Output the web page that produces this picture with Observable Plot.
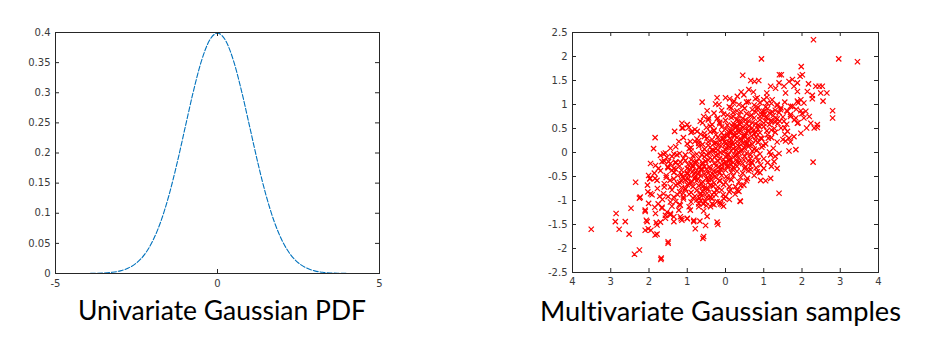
<!DOCTYPE html>
<html><head><meta charset="utf-8">
<script src="https://cdn.jsdelivr.net/npm/d3@7"></script>
<script src="https://cdn.jsdelivr.net/npm/@observablehq/plot@0.6"></script>
<style>
body{margin:0;background:#fff;}
#wrap{position:relative;width:939px;height:352px;overflow:hidden;background:#fff;}
.panel{position:absolute;top:0;}
#titles{position:absolute;left:0;top:0;}
#titles text{font-variant-ligatures:none;font-feature-settings:"liga" 0,"clig" 0;}
</style></head><body><div id="wrap"></div>
<script>
// ---- Left panel: univariate Gaussian PDF ----
const pdfX = [-5,-4.75,-4.5,-4.25,-4,-3.75,-3.5,-3.25,-3,-2.75,-2.5,-2.25,-2,-1.75,-1.5,-1.25,-1,-0.75,-0.5,-0.25,0,0.25,0.5,0.75,1,1.25,1.5,1.75,2,2.25,2.5,2.75,3,3.25,3.5,3.75,4,4.25,4.5,4.75,5];
const pdfY = [0,0,0,0,0.0001,0.0004,0.0009,0.002,0.0044,0.0091,0.0175,0.0317,0.054,0.0863,0.1295,0.1826,0.242,0.3011,0.3521,0.3867,0.3989,0.3867,0.3521,0.3011,0.242,0.1826,0.1295,0.0863,0.054,0.0317,0.0175,0.0091,0.0044,0.002,0.0009,0.0004,0.0001,0,0,0,0];
const pdfXTicks = [-5,0,5];
const pdfYTicks = [0,0.05,0.1,0.15,0.2,0.25,0.3,0.35,0.4];

// ---- Right panel: multivariate Gaussian samples (positions) ----
const scatterXTicks = [-4,-3,-2,-1,0,1,2,3,4];
const scatterXLabels = ["4","3","2","1","0","1","2","3","4"];
const scatterYTicks = [-2.5,-2,-1.5,-1,-0.5,0,0.5,1,1.5,2,2.5];
const samples = [
[-3.51,-1.60],[-2.86,-1.27],[-2.88,-1.44],[-2.78,-1.60],[-2.62,-1.44],[-2.52,-1.70],[-2.47,-1.16],[-2.35,-0.62],[-2.38,-2.12],[-2.25,-2.03],[-2.25,-0.95],[-1.69,-2.23],[-1.50,-1.89],[-1.84,0.31],[-1.88,0.08],[-1.33,0.44],[-0.57,-1.22],[-0.59,-1.79],[-0.20,-1.50],[0.45,1.61],[0.94,1.95],[2.30,2.35],[2.96,1.95],[3.45,1.89],[2.29,-0.20],[1.40,-0.85],[1.98,1.79],[1.41,1.62],[1.46,1.62],[2.80,0.87],[2.80,0.72],[2.40,0.58],[2.40,0.52],[2.65,1.24],[2.53,1.38],[2.27,1.12],[2.55,1.07],[1.84,0.06],[1.66,0.03],[0.92,-0.58],[1.05,-0.59],[1.18,-0.54],[0.38,-1.01],
[-2.23,-0.93],[-2.02,-1.59],[-2.10,-1.20],[-2.07,-1.41],[-1.96,-0.23],[-2.01,-0.48],[-1.98,-0.55],[-2.03,-0.82],[-1.96,-0.86],[-1.83,-0.27],[-1.86,-0.43],[-1.79,-0.58],[-1.78,-0.75],[-1.72,-0.91],[-1.85,-1.14],[-1.83,-1.27],[-1.81,-1.46],[-1.79,-1.70],[-1.70,-1.45],[-1.68,-2.20],[-1.50,-1.86],[-1.76,-1.07],[-1.66,-1.14],[-1.62,-0.86],[-1.60,-0.65],[-1.55,-0.48],[-1.51,-0.30],[-1.70,-0.06],[-1.62,-0.03],[-1.53,-0.10],[-1.35,-0.03],[-1.31,-0.20],[-1.44,-0.23],[-1.40,-0.37],[-1.35,-0.55],[-1.44,-0.72],[-1.35,-0.93],[-1.44,-1.03],[-1.53,-1.24],[-1.57,-1.31],[-1.44,-1.27],[-1.35,-1.34],[-1.18,-1.34],[-1.18,-1.10],[-1.16,-1.38],[-1.00,-1.38],[-0.83,-1.41],[-0.79,-1.59],[-0.67,-1.43],[-0.57,-1.75],[-0.52,-1.52],[-0.48,-1.33],[-0.22,-1.45],[-0.58,-1.07],[-0.65,-1.00],[-0.48,-0.93],[-0.35,-1.07],[-0.13,-1.07],[-0.04,-0.96],[-0.22,-0.79],
[-0.26,1.01],[-0.17,1.00],[-0.22,1.14],[0.11,1.12],[0.00,1.14],[0.31,1.17],[0.41,1.26],[0.61,1.31],[0.73,1.26],[0.83,1.14],[0.66,1.50],[0.76,1.48],[0.87,1.50],[1.00,1.10],[1.09,1.03],[1.08,1.24],[1.18,1.38],[1.31,1.34],[1.40,1.45],[1.53,1.38],[1.66,1.48],[1.75,1.52],[1.79,1.38],[1.88,1.45],[1.95,1.59],[2.01,1.62],[2.17,1.43],[2.36,1.38],[2.45,1.38],[2.49,1.24],[2.14,1.27],[1.88,1.27],[1.57,1.24],[2.27,1.19],[1.22,1.10],[1.35,1.00],[1.44,0.89],[1.62,0.86],[1.70,0.96],[1.88,1.07],[1.97,1.10],[2.05,1.03],[1.97,0.87],[2.10,0.86],[2.05,0.72],[2.19,0.75],[2.23,0.61],[2.12,0.51],[2.32,0.51],[1.09,0.72],[1.18,0.65],[1.31,0.72],[1.37,0.61],[1.53,0.65],[1.55,0.51],[1.62,0.44],[1.66,0.30],[1.57,0.24],[1.70,0.22],[1.79,0.33],[1.97,0.40],[1.88,0.61],[1.84,0.72],[1.70,0.75],[-0.61,1.05],[-0.48,0.87],[-0.57,0.75],[0.22,1.07],[0.48,1.20],
[1.18,-0.05],[1.27,-0.19],[1.35,-0.33],[1.00,-0.33],[0.92,-0.26],[0.83,-0.40],[0.66,-0.36],[0.57,-0.54],[0.48,-0.68],[0.35,-0.81],[0.39,-1.02],[0.26,-0.71],[0.13,-0.78],[-0.06,-0.88],[-0.09,-1.09],[-0.22,-1.02],[-0.35,-0.88],[-0.39,-1.13],[-0.52,-1.02],[-0.66,-0.88],[-0.70,-1.13],[-0.83,-1.44],[-0.92,-1.20],[-1.00,-1.37],[-1.14,-1.41],[-1.22,-1.20],[-1.35,-1.44],[-1.44,-1.30],[-1.57,-1.37],[-1.66,-1.16],[-1.79,-1.51],[-1.84,-1.72],[-1.95,-1.62],[-2.10,-1.62],[-2.05,-1.44],[-2.10,-1.23],[-2.01,-1.06],[-1.92,-0.88],[-2.04,-0.68],[-1.97,-0.54],[-1.84,-0.54],[-1.75,-0.33],[-1.66,-0.19],[-1.57,-0.01],[-1.44,0.09],[-1.49,-0.19],[-1.35,-0.33],[-1.27,-0.05],[-1.22,0.23],[-1.14,0.51],[-1.00,0.58],[-0.87,0.44],[-0.92,0.23],[-0.74,0.44],[-0.66,0.65],[-0.44,0.72],[-0.70,0.19],[-1.14,0.61],[-1.11,0.51],[-0.96,0.52],
[0.2,1.03],[0.45,0.97],[0.6,1.06],[0.75,0.99],[0.9,1.04],[1.05,0.95],[1.2,1.02],[1.35,0.98],[1.55,1.05],[1.75,0.96],[1.9,1.03],
[-0.1,0.88],[0.15,0.93],[0.3,0.87],[0.5,0.92],[0.7,0.89],[0.85,0.94],[1.0,0.86],[1.1,0.91],[1.3,0.88],[1.45,0.93],[1.6,0.87],[1.85,0.9],
[-0.3,0.82],[0.05,0.78],[0.2,0.83],[0.35,0.77],[0.55,0.81],[0.65,0.76],[0.8,0.84],[0.95,0.79],[1.15,0.82],[1.25,0.77],[1.4,0.83],[1.7,0.79],[2.0,0.81],
[-0.45,0.68],[-0.2,0.72],[0.0,0.67],[0.15,0.73],[0.3,0.69],[0.45,0.71],[0.6,0.66],[0.75,0.72],[0.9,0.68],[1.05,0.73],[1.2,0.67],[1.35,0.7],[1.5,0.74],[1.8,0.68],
[-0.6,0.62],[-0.35,0.58],[-0.15,0.63],[0.05,0.57],[0.2,0.61],[0.3,0.56],[0.4,0.63],[0.55,0.59],[0.7,0.62],[0.85,0.57],[1.0,0.61],[1.15,0.58],[1.3,0.63],[1.6,0.59],[1.9,0.62],
[-0.8,0.48],[-0.5,0.52],[-0.3,0.47],[-0.1,0.53],[0.0,0.49],[0.12,0.46],[0.25,0.52],[0.35,0.48],[0.45,0.53],[0.6,0.47],[0.7,0.51],[0.85,0.49],[1.0,0.54],[1.2,0.47],[1.45,0.51],
[-0.9,0.42],[-0.65,0.38],[-0.4,0.43],[-0.25,0.37],[-0.1,0.41],[0.05,0.39],[0.15,0.43],[0.25,0.36],[0.35,0.42],[0.5,0.38],[0.6,0.44],[0.75,0.39],[0.9,0.41],[1.1,0.37],[1.3,0.42],[1.55,0.38],
[-1.1,0.31],[-0.75,0.28],[-0.55,0.33],[-0.35,0.27],[-0.2,0.32],[-0.05,0.29],[0.05,0.34],[0.15,0.26],[0.3,0.31],[0.4,0.28],[0.5,0.33],[0.65,0.27],[0.8,0.32],[0.95,0.29],[1.2,0.31],[1.5,0.27],
[-1.0,0.18],[-0.8,0.23],[-0.6,0.17],[-0.45,0.22],[-0.3,0.19],[-0.15,0.24],[0.0,0.18],[0.1,0.21],[0.2,0.16],[0.3,0.23],[0.45,0.19],[0.55,0.22],[0.7,0.17],[0.85,0.21],[1.05,0.18],[1.35,0.22],
[-1.3,0.12],[-0.95,0.08],[-0.7,0.13],[-0.55,0.07],[-0.4,0.11],[-0.25,0.09],[-0.12,0.14],[0.0,0.06],[0.1,0.11],[0.2,0.08],[0.35,0.13],[0.5,0.09],[0.6,0.12],[0.75,0.07],[0.95,0.11],[1.25,0.09],
[-1.2,-0.02],[-0.9,0.03],[-0.75,-0.03],[-0.6,0.02],[-0.45,-0.01],[-0.3,0.04],[-0.2,-0.03],[-0.05,0.01],[0.05,-0.04],[0.15,0.03],[0.3,-0.02],[0.4,0.02],[0.55,-0.01],[0.7,0.03],[0.9,-0.03],[1.15,0.01],[1.4,-0.02],
[-1.4,-0.08],[-1.1,-0.12],[-0.85,-0.07],[-0.7,-0.13],[-0.55,-0.09],[-0.4,-0.11],[-0.25,-0.06],[-0.15,-0.12],[0.0,-0.09],[0.12,-0.13],[0.25,-0.07],[0.35,-0.11],[0.5,-0.08],[0.65,-0.12],[0.8,-0.09],[1.0,-0.13],[1.3,-0.08],
[-1.6,-0.18],[-1.3,-0.22],[-1.05,-0.17],[-0.9,-0.23],[-0.75,-0.19],[-0.6,-0.21],[-0.45,-0.16],[-0.3,-0.23],[-0.2,-0.18],[-0.05,-0.22],[0.1,-0.17],[0.2,-0.21],[0.3,-0.19],[0.45,-0.23],[0.6,-0.18],[0.7,-0.22],[0.85,-0.17],[1.1,-0.21],
[-1.5,-0.32],[-1.2,-0.28],[-1.0,-0.33],[-0.85,-0.27],[-0.7,-0.31],[-0.55,-0.29],[-0.4,-0.34],[-0.25,-0.28],[-0.1,-0.32],[0.05,-0.27],[0.2,-0.31],[0.3,-0.29],[0.5,-0.33],[0.65,-0.28],[0.8,-0.32],[1.2,-0.29],
[-1.7,-0.38],[-1.35,-0.42],[-1.15,-0.37],[-1.0,-0.43],[-0.85,-0.39],[-0.7,-0.41],[-0.6,-0.36],[-0.45,-0.43],[-0.3,-0.38],[-0.15,-0.42],[0.0,-0.37],[0.15,-0.41],[0.3,-0.39],[0.45,-0.43],[0.6,-0.38],[0.9,-0.42],
[-1.55,-0.52],[-1.25,-0.48],[-1.1,-0.53],[-0.95,-0.47],[-0.8,-0.51],[-0.65,-0.49],[-0.5,-0.54],[-0.4,-0.47],[-0.25,-0.52],[-0.1,-0.48],[0.05,-0.53],[0.2,-0.49],[0.4,-0.52],[0.75,-0.48],
[-1.45,-0.58],[-1.2,-0.62],[-1.05,-0.57],[-0.9,-0.63],[-0.75,-0.59],[-0.6,-0.61],[-0.45,-0.56],[-0.3,-0.63],[-0.15,-0.58],[0.0,-0.62],[0.15,-0.57],[0.35,-0.61],[0.55,-0.59],
[-1.6,-0.72],[-1.3,-0.68],[-1.15,-0.73],[-1.0,-0.67],[-0.85,-0.71],[-0.7,-0.69],[-0.55,-0.74],[-0.4,-0.68],[-0.2,-0.72],[-0.05,-0.67],[0.1,-0.71],[0.4,-0.69],
[-1.4,-0.78],[-1.2,-0.82],[-1.05,-0.77],[-0.9,-0.83],[-0.75,-0.79],[-0.6,-0.81],[-0.45,-0.76],[-0.3,-0.83],[-0.1,-0.78],[0.1,-0.82],[0.3,-0.79],
[-1.5,-0.92],[-1.25,-0.88],[-1.1,-0.93],[-0.95,-0.87],[-0.8,-0.91],[-0.6,-0.89],[-0.4,-0.94],[-0.25,-0.88],[0.0,-0.92],[0.25,-0.87],
[-1.65,-0.98],[-1.3,-1.02],[-1.1,-0.97],[-0.9,-1.03],[-0.75,-0.99],[-0.55,-1.01],[-0.35,-0.96],[-0.15,-1.03],[0.1,-0.98],
[-1.4,-1.12],[-1.2,-1.08],[-0.95,-1.13],[-0.7,-1.07],[-0.5,-1.11],[-0.3,-1.09],[-0.05,-1.12],
[-0.5,-0.05],[-0.35,-0.15],[-0.2,0.05],[-0.1,-0.25],[0.08,0.15],[0.22,0.35],[0.38,0.45],[0.28,0.05],[0.42,0.25],[0.55,0.4],[0.1,-0.15],[-0.05,0.35],[0.18,0.55],[0.32,0.65],[-0.65,-0.35],[-0.8,-0.55],[-0.95,-0.65],[-0.72,-0.45],[-0.6,-0.25],[-0.38,-0.55],[-0.22,-0.4],[0.05,-0.3],[0.62,0.55],[0.78,0.6],[0.9,0.75],[0.48,0.1],[-0.45,0.15],[-0.3,0.45],[0.65,-0.05],[-1.0,-0.45],[-0.85,-0.3],[-1.15,-0.6],[-0.5,-0.75],[-0.65,-0.85],[0.2,0.75],[1.05,0.65],[0.95,0.85],[-0.15,0.6],[0.4,0.85],[-0.9,-0.15],[-1.1,-0.85],
[-0.95,-0.35],[-0.8,-0.2],[-0.62,-0.05],[-0.48,0.3],[-0.35,0.05],[-0.18,0.15],[-0.02,0.22],[0.12,0.3],[0.25,0.42],[0.38,0.58],[0.52,0.68],[0.68,0.78],[0.82,0.9],
[-1.05,-0.75],[-0.88,-0.6],[-0.72,-0.55],[-0.55,-0.45],[-0.42,-0.3],[-0.28,-0.1],[-0.12,0.0],[0.02,0.1],[0.18,0.2],[0.32,0.15],[0.45,0.35],[0.58,0.28],[0.72,0.45],[0.88,0.55],[1.02,0.8],
[-1.25,-0.65],[-1.12,-0.5],[-0.98,-0.55],[-0.78,-0.4],[-0.62,-0.65],[-0.5,-0.35],[-0.33,-0.45],[-0.18,-0.3],[-0.05,-0.15],[0.08,-0.05],[0.22,-0.1],[0.35,0.0],[0.48,-0.15],[0.62,0.15],[0.78,0.25],[0.92,0.3],[1.08,0.45],
[-1.3,-0.35],[-1.18,-0.2],[-1.05,-0.05],[-0.9,0.1],[-0.7,0.25],[-0.55,0.4],[-0.4,0.55],[-0.22,0.7],[-0.05,0.8],[0.1,0.95],
[-0.85,-0.95],[-0.68,-0.95],[-0.48,-0.85],[-0.32,-0.7],[-0.15,-0.6],[0.02,-0.5],[0.18,-0.35],[0.35,-0.2],[0.52,-0.3],[0.68,-0.2],[0.82,0.05],[0.98,0.15],[1.12,0.3],[1.28,0.5],[1.42,0.65],[1.22,0.85],[1.08,1.15],[0.78,1.12],[0.55,1.05],[0.35,1.0],
[-0.45,-0.62],[-0.6,-0.72],[-0.28,-0.5],[-0.12,-0.36],[0.0,-0.2],[0.15,-0.25],[0.28,-0.05],[0.42,0.05],[0.55,0.18],[0.68,0.35],[0.8,0.42],[0.5,0.5],[0.28,0.52],[0.1,0.42],[-0.08,0.28],[-0.25,0.2],[-0.4,0.0],[-0.52,-0.18],[-0.68,-0.3],[-0.82,-0.45],[-0.98,-0.25],[-1.15,-0.45]
];

const titles = ["Univariate Gaussian PDF", "Multivariate Gaussian samples"];

// ---- build ----
const pdf = pdfX.map((x, i) => ({x, y: pdfY[i]}));
const pts = samples.map(([x, y]) => ({x, y}));
const wrap = document.getElementById("wrap");
const axisStyle = {fontFamily: "DejaVu Sans", fontSize: "10px", color: "#3a3a3a", background: "transparent", overflow: "visible"};
const ink = "#262626";
const TL = 4;

// left panel
const L = {w: 400, h: 300, ml: 55, mr: 21, mt: 32, mb: 27};
const LPW = L.w - L.ml - L.mr, LPH = L.h - L.mt - L.mb;
const left = Plot.plot({
  width: L.w, height: L.h, marginLeft: L.ml, marginRight: L.mr, marginTop: L.mt, marginBottom: L.mb,
  style: axisStyle,
  x: {domain: [-5, 5], label: null}, y: {domain: [0, 0.4], label: null},
  marks: [
    Plot.line(pdf, {x: "x", y: "y", stroke: "#0072BD", strokeWidth: 1.1, strokeDasharray: "5,2", curve: "monotone-x"}),
    Plot.tickY(pdfYTicks, {y: d => d, insetRight: LPW - TL, stroke: ink}),
    Plot.tickY(pdfYTicks, {y: d => d, insetLeft: LPW - TL, stroke: ink}),
    Plot.tickX(pdfXTicks, {x: d => d, insetTop: LPH - TL, stroke: ink}),
    Plot.tickX(pdfXTicks, {x: d => d, insetBottom: LPH - TL, stroke: ink}),
    Plot.frame({stroke: ink}),
    Plot.axisY(pdfYTicks, {tickSize: 0, tickPadding: 5, tickFormat: d => String(d), fill: "#3a3a3a", label: null}),
    Plot.axisX(pdfXTicks, {tickSize: 0, tickPadding: 6, tickFormat: d => String(d), fill: "#3a3a3a", label: null})
  ]
});
left.classList.add("panel");
left.style.left = "0px";
wrap.appendChild(left);

// right panel
const R = {w: 400, h: 300, ml: 52, mr: 42, mt: 32, mb: 28};
const RPW = R.w - R.ml - R.mr, RPH = R.h - R.mt - R.mb;
const right = Plot.plot({
  width: R.w, height: R.h, marginLeft: R.ml, marginRight: R.mr, marginTop: R.mt, marginBottom: R.mb,
  style: axisStyle,
  x: {domain: [-4, 4], label: null}, y: {domain: [-2.5, 2.5], label: null},
  marks: [
    Plot.dot(pts, {x: "x", y: "y", symbol: "times", r: 2.5, stroke: "#ff0000", strokeWidth: 1.2}),
    Plot.tickY(scatterYTicks, {y: d => d, insetRight: RPW - TL, stroke: ink}),
    Plot.tickY(scatterYTicks, {y: d => d, insetLeft: RPW - TL, stroke: ink}),
    Plot.tickX(scatterXTicks, {x: d => d, insetTop: RPH - TL, stroke: ink}),
    Plot.tickX(scatterXTicks, {x: d => d, insetBottom: RPH - TL, stroke: ink}),
    Plot.frame({stroke: ink}),
    Plot.axisY(scatterYTicks, {tickSize: 0, tickPadding: 5, tickFormat: d => String(d), fill: "#3a3a3a", label: null}),
    Plot.axisX(scatterXTicks, {tickSize: 0, tickPadding: 5, tickFormat: d => scatterXLabels[scatterXTicks.indexOf(d)], fill: "#3a3a3a", label: null})
  ]
});
right.classList.add("panel");
right.style.left = "520px";
wrap.appendChild(right);

// titles (below the plots)
const NS = "http://www.w3.org/2000/svg";
const tsvg = document.createElementNS(NS, "svg");
tsvg.setAttribute("id", "titles");
tsvg.setAttribute("width", 939);
tsvg.setAttribute("height", 352);
const titleSpec = [{cx: 222, base: 320, w: 288}, {cx: 720.5, base: 321, w: 361}];
titles.forEach((t, i) => {
  const el = document.createElementNS(NS, "text");
  el.textContent = t;
  el.setAttribute("x", titleSpec[i].cx);
  el.setAttribute("y", titleSpec[i].base);
  el.setAttribute("text-anchor", "middle");
  el.setAttribute("font-family", "Lato, 'Open Sans', sans-serif");
  el.setAttribute("font-size", 27);
  el.setAttribute("fill", "#000");
  el.setAttribute("textLength", titleSpec[i].w);
  el.setAttribute("lengthAdjust", "spacingAndGlyphs");
  tsvg.appendChild(el);
});
wrap.appendChild(tsvg);
</script>
</body></html>
